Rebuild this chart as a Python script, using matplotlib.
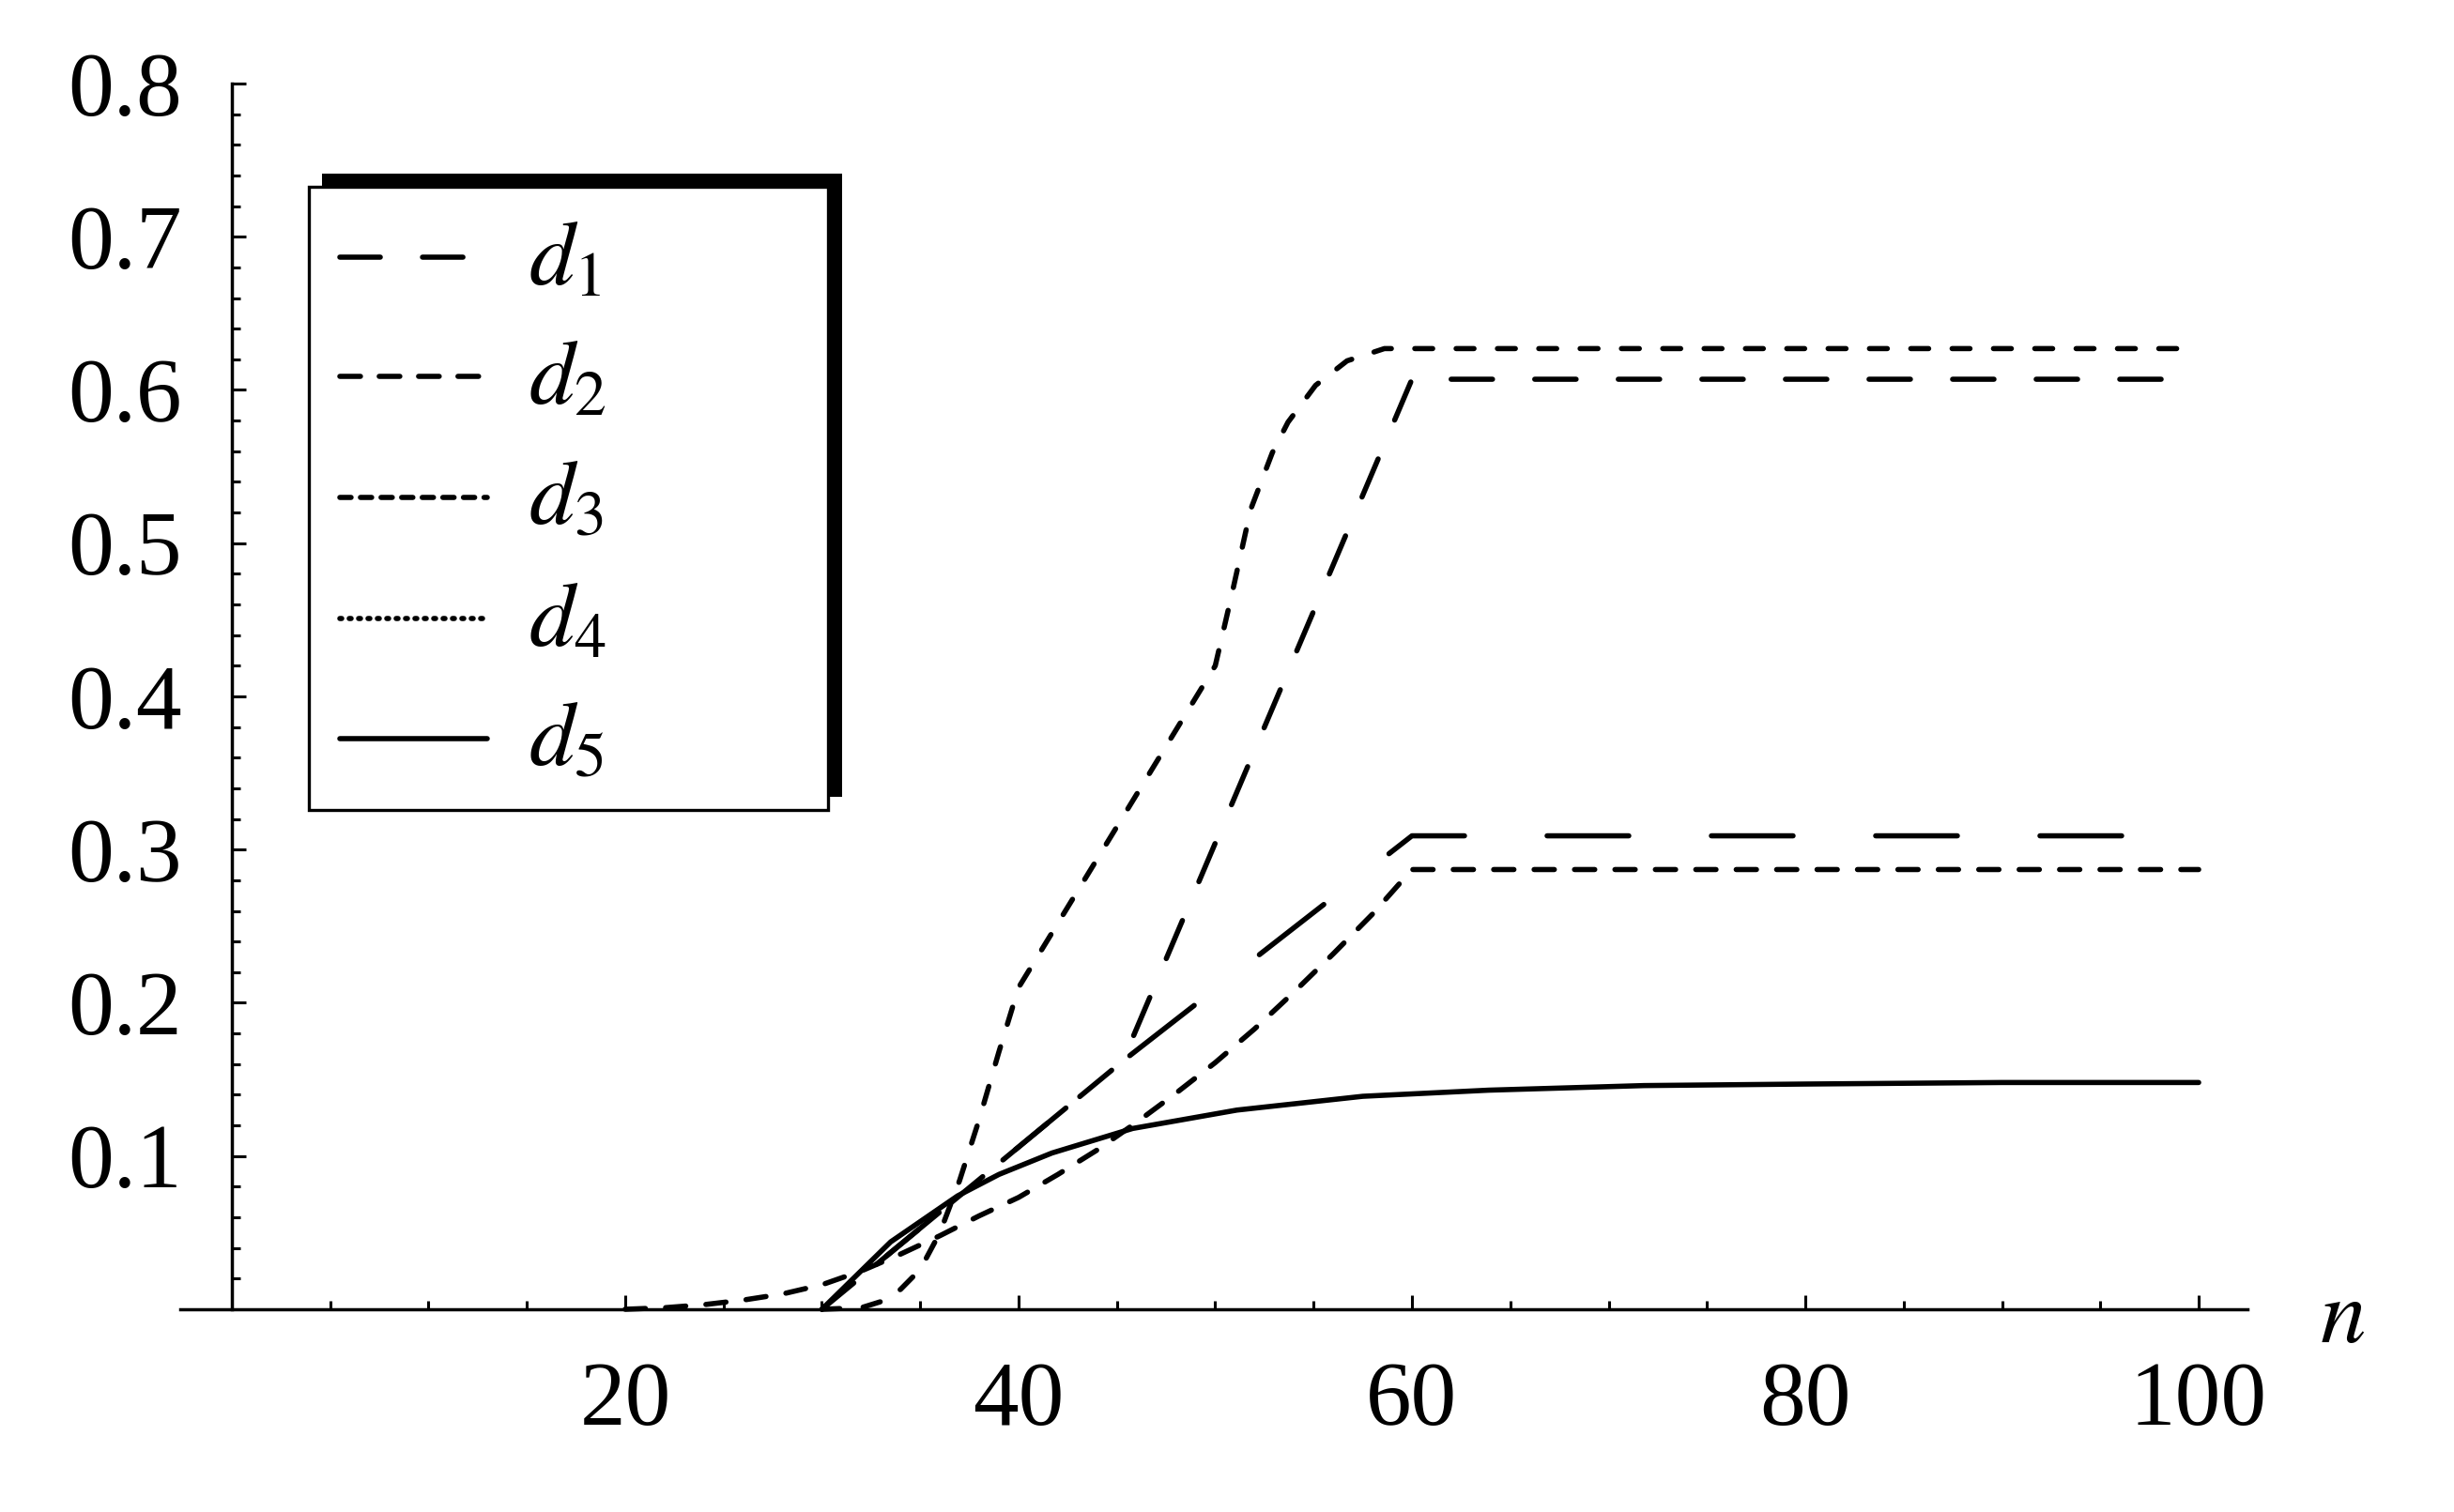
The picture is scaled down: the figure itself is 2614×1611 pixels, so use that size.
import matplotlib
matplotlib.use("Agg")
import matplotlib.pyplot as plt
from matplotlib.patches import Rectangle
from matplotlib.lines import Line2D

plt.rcParams["font.family"] = "Liberation Serif"
plt.rcParams["mathtext.fontset"] = "stix"
plt.rcParams["lines.scale_dashes"] = False

# data
n_d1 = [30, 45.3, 60, 100]
d1 = [0, 0.162, 0.309, 0.309]

n_d2 = [30, 45.3, 60, 100]
d2 = [0, 0.162, 0.607, 0.607]

n_d3 = [30, 32, 33, 34, 35, 36, 37, 38, 39, 40, 50, 50.85, 51.8, 52.9, 53.7, 55.1, 56.7, 58.6, 100]
d3 = [0, 0.001, 0.005, 0.013, 0.026, 0.05, 0.084, 0.124, 0.168, 0.21, 0.42, 0.467,
      0.522, 0.559, 0.579, 0.603, 0.619, 0.627, 0.627]

n_d4 = [20, 22, 24, 26, 28, 30, 32, 34, 36, 38, 40, 42, 44, 46, 48, 50, 52, 54, 56, 58, 60, 100]
d4 = [0, 0.001, 0.003, 0.006, 0.010, 0.016, 0.025, 0.036, 0.048, 0.061, 0.073, 0.088,
      0.104, 0.122, 0.141, 0.161, 0.183, 0.207, 0.232, 0.258, 0.287, 0.287]

n_d5 = [30, 33.5, 36.9, 39, 41.7, 45.8, 51.1, 57.5, 63.9, 71.8, 80, 90, 100]
d5 = [0, 0.044, 0.074, 0.088, 0.102, 0.118, 0.130, 0.139, 0.143, 0.146, 0.147, 0.148, 0.148]

labels = [r"$d_1$", r"$d_2$", r"$d_3$", r"$d_4$", r"$d_5$"]
x_ticks = [20, 40, 60, 80, 100]
x_ticklabels = ["20", "40", "60", "80", "100"]
y_ticks = [0.1, 0.2, 0.3, 0.4, 0.5, 0.6, 0.7, 0.8]
y_ticklabels = ["0.1", "0.2", "0.3", "0.4", "0.5", "0.6", "0.7", "0.8"]

W, H = 2614, 1611
fig = plt.figure(figsize=(W / 100, H / 100), dpi=100)
ax = fig.add_axes([0.07364, 0.13408, 0.84235, 0.81068])
ax.set_xlim(-2.6, 102.5)
ax.set_ylim(0, 0.8)

lw = 4.0
# line styles: (offset, (on, off)) in points
plot_styles = [(72, (62.6, 63.4)), (0, (31.7, 32.4)), (0, (13.7, 18.0)),
               (0, (15.5, 15.5)), "solid"]
series = [(n_d1, d1), (n_d2, d2), (n_d3, d3), (n_d4, d4), (n_d5, d5)]
for (xs, ys), ls in zip(series, plot_styles):
    ax.plot(xs, ys, color="black", lw=lw, linestyle=ls,
            dash_capstyle="round", dash_joinstyle="round",
            solid_capstyle="round", solid_joinstyle="round",
            clip_on=False, zorder=3)

# Mathematica-style crossing axes
for s in ["top", "right"]:
    ax.spines[s].set_visible(False)
ax.spines["left"].set_position(("data", 0))
ax.spines["bottom"].set_position(("data", 0))
ax.spines["left"].set_bounds(0, 0.8)
for s in ["left", "bottom"]:
    ax.spines[s].set_linewidth(2.5)

ax.set_xticks(x_ticks)
ax.set_xticklabels(x_ticklabels)
ax.set_xticks([v for v in range(5, 101, 5) if v % 20], minor=True)
ax.set_yticks(y_ticks)
ax.set_yticklabels(y_ticklabels)
ax.set_yticks([i / 100 for i in range(2, 80, 2) if i % 10], minor=True)
ax.tick_params(which="both", direction="in", width=2.2, labelsize=70)
ax.tick_params(which="major", length=10.5)
ax.tick_params(which="minor", length=6.5)
ax.tick_params(axis="x", pad=40)
ax.tick_params(axis="y", pad=38)

ax.text(107.3, -0.0074, r"$n$", fontsize=70, ha="center", va="center", clip_on=False)

# legend with offset shadow, drawn in pixel coordinates
lax = fig.add_axes([0, 0, 1, 1], zorder=5)
lax.set_xlim(0, W)
lax.set_ylim(H, 0)
lax.axis("off")
lax.patch.set_alpha(0)
lax.add_patch(Rectangle((343, 185), 554, 664, facecolor="black", edgecolor="none"))
lax.add_patch(Rectangle((329, 199), 553, 664, facecolor="white", edgecolor="black", lw=2.4))

legend_styles = [(0, (31.0, 32.4)), (0, (15.8, 14.4)), (0, (8.6, 7.2)),
                 (0, (1.44, 5.76)), "solid"]
rows = [274, 401, 530, 659, 787]
for lab, ls, ry in zip(labels, legend_styles, rows):
    lax.add_line(Line2D([362, 519], [ry, ry], color="black", lw=lw, linestyle=ls,
                        dash_capstyle="round", solid_capstyle="round"))
    lax.text(563, ry + 29, lab, fontsize=70, ha="left", va="baseline")

fig.savefig("out.png", dpi=100)
